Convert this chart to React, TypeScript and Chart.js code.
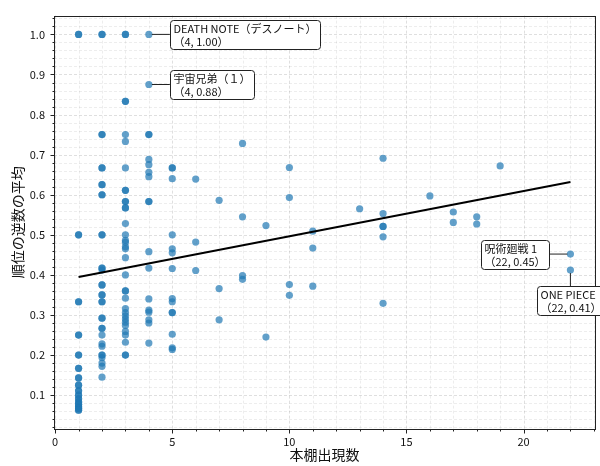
import React, { useEffect, useRef } from "react";
import { Chart, registerables } from "chart.js";

Chart.register(...registerables);

// ---- data ----
const shelfCounts = [1, 2, 3, 4, 5, 6, 7, 8, 9, 10, 11, 13, 14, 16, 17, 18, 19, 22];
const recipRanks: number[][] = [
  // x = 1
  [1.0, 1.0, 0.5, 0.5, 0.333, 0.333, 0.25, 0.25, 0.2, 0.2, 0.167, 0.167, 0.143, 0.143, 0.125, 0.125,
    0.111, 0.111, 0.1, 0.1, 0.091, 0.091, 0.083, 0.083, 0.077, 0.077, 0.071, 0.071, 0.067, 0.067, 0.0625, 0.0625],
  // x = 2
  [1.0, 1.0, 0.75, 0.75, 0.667, 0.667, 0.625, 0.625, 0.6, 0.6, 0.5, 0.5, 0.417, 0.417, 0.412, 0.375, 0.375,
    0.35, 0.35, 0.333, 0.333, 0.292, 0.292, 0.267, 0.267, 0.25, 0.228, 0.222, 0.2, 0.2, 0.194, 0.18, 0.172, 0.145],
  // x = 3
  [1.0, 1.0, 0.833, 0.833, 0.75, 0.733, 0.667, 0.611, 0.611, 0.583, 0.583, 0.567, 0.567, 0.528, 0.5,
    0.486, 0.481, 0.47, 0.465, 0.443, 0.4, 0.36, 0.36, 0.342, 0.316, 0.306, 0.298, 0.29, 0.282, 0.274,
    0.259, 0.25, 0.232, 0.2, 0.2],
  // x = 4
  [1.0, 0.875, 0.75, 0.75, 0.688, 0.675, 0.656, 0.645, 0.583, 0.583, 0.458, 0.417, 0.34, 0.312, 0.307,
    0.288, 0.28, 0.23],
  // x = 5
  [0.667, 0.667, 0.64, 0.5, 0.465, 0.455, 0.416, 0.341, 0.333, 0.306, 0.306, 0.252, 0.218, 0.214],
  // x = 6
  [0.639, 0.482, 0.411],
  // x = 7
  [0.586, 0.366, 0.288],
  // x = 8
  [0.728, 0.545, 0.398, 0.389],
  // x = 9
  [0.523, 0.245],
  // x = 10
  [0.668, 0.593, 0.376, 0.349],
  // x = 11
  [0.509, 0.467, 0.372],
  // x = 13
  [0.565],
  // x = 14
  [0.691, 0.553, 0.521, 0.521, 0.495, 0.329],
  // x = 16
  [0.597],
  // x = 17
  [0.557, 0.531],
  // x = 18
  [0.545, 0.527],
  // x = 19
  [0.672],
  // x = 22
  [0.452, 0.412],
];

const trendX = [1, 22];
const trendY = [0.395, 0.632];

const xTickValues = [0, 5, 10, 15, 20];
const yTickValues = [0.1, 0.2, 0.3, 0.4, 0.5, 0.6, 0.7, 0.8, 0.9, 1.0];

const annTitles = ["DEATH NOTE（デスノート）", "宇宙兄弟（１）", "呪術廻戦 1", "ONE PIECE"];
const annX = [4, 4, 22, 22];
const annY = [1.0, 0.875, 0.452, 0.412];
const annLabels = ["（4, 1.00）", "（4, 0.88）", "（22, 0.45）", "（22, 0.41）"];
const annPlacement = ["right", "right", "left", "below"];

const X_MIN = -0.05, X_MAX = 23.05;
const Y_MIN = 0.0156, Y_MAX = 1.0469;

const FONT = '"Noto Sans CJK JP", "Noto Sans", sans-serif';

const framePlugin = {
  id: "frameGrid",
  beforeDatasetsDraw(chart: any) {
    const { ctx, chartArea: a, scales } = chart;
    const xs = scales.x, ys = scales.y;
    ctx.save();
    ctx.lineWidth = 0.8;
    // x grid (minor every 1, major every 5)
    for (let v = 0; v <= 23; v += 1) {
      const p = Math.round(xs.getPixelForValue(v)) + 0.5;
      const major = v % 5 === 0;
      ctx.strokeStyle = major ? "rgba(0,0,0,0.16)" : "rgba(0,0,0,0.09)";
      ctx.setLineDash([3, 2]);
      ctx.beginPath();
      ctx.moveTo(p, a.top);
      ctx.lineTo(p, a.bottom);
      ctx.stroke();
    }
    for (let i = 1; i <= 52; i++) {
      const v = i * 0.02;
      if (v < Y_MIN || v > Y_MAX) continue;
      const p = Math.round(ys.getPixelForValue(v)) + 0.5;
      const major = i % 5 === 0;
      ctx.strokeStyle = major ? "rgba(0,0,0,0.16)" : "rgba(0,0,0,0.09)";
      ctx.setLineDash([3, 2]);
      ctx.beginPath();
      ctx.moveTo(a.left, p);
      ctx.lineTo(a.right, p);
      ctx.stroke();
    }
    ctx.restore();
  },
  afterDraw(chart: any) {
    const { ctx, chartArea: a, scales } = chart;
    const xs = scales.x, ys = scales.y;
    ctx.save();
    // spines
    ctx.strokeStyle = "#222";
    ctx.lineWidth = 1;
    ctx.setLineDash([]);
    ctx.strokeRect(Math.round(a.left) + 0.5, Math.round(a.top) + 0.5,
      Math.round(a.right - a.left), Math.round(a.bottom - a.top));
    // ticks
    for (let v = 0; v <= 23; v += 1) {
      const p = Math.round(xs.getPixelForValue(v)) + 0.5;
      const len = v % 5 === 0 ? 4 : 2;
      ctx.beginPath();
      ctx.moveTo(p, Math.round(a.bottom) + 0.5);
      ctx.lineTo(p, Math.round(a.bottom) + 0.5 + len);
      ctx.stroke();
    }
    for (let i = 1; i <= 52; i++) {
      const v = i * 0.02;
      if (v < Y_MIN || v > Y_MAX) continue;
      const p = Math.round(ys.getPixelForValue(v)) + 0.5;
      const len = i % 5 === 0 ? 4 : 2;
      ctx.beginPath();
      ctx.moveTo(Math.round(a.left) + 0.5, p);
      ctx.lineTo(Math.round(a.left) + 0.5 - len, p);
      ctx.stroke();
    }
    // annotations
    ctx.font = `11px ${FONT}`;
    ctx.textBaseline = "middle";
    ctx.textAlign = "left";
    for (let i = 0; i < annTitles.length; i++) {
      const px = xs.getPixelForValue(annX[i]);
      const py = ys.getPixelForValue(annY[i]);
      const l1 = annTitles[i], l2 = annLabels[i];
      const w = Math.max(ctx.measureText(l1).width, ctx.measureText(l2).width) + 7;
      const lh = 13;
      const h = lh * 2 + 3;
      let bx = 0, by = 0, cx0 = 0, cy0 = 0, cx1 = 0, cy1 = 0;
      if (annPlacement[i] === "right") {
        bx = px + 21; by = py - h / 2;
        cx0 = px + 3; cy0 = py; cx1 = bx; cy1 = py;
      } else if (annPlacement[i] === "left") {
        bx = px - 21 - w; by = py - h / 2;
        cx0 = px - 3; cy0 = py; cx1 = bx + w; cy1 = py;
      } else {
        bx = px - w / 2 + 1; by = py + 16;
        cx0 = px; cy0 = py + 3; cx1 = px; cy1 = by;
      }
      ctx.strokeStyle = "#222";
      ctx.lineWidth = 1;
      ctx.beginPath();
      ctx.moveTo(cx0, cy0);
      ctx.lineTo(cx1, cy1);
      ctx.stroke();
      ctx.beginPath();
      (ctx as any).roundRect(Math.round(bx) + 0.5, Math.round(by) + 0.5, Math.round(w), Math.round(h), 3);
      ctx.fillStyle = "#fff";
      ctx.fill();
      ctx.stroke();
      ctx.fillStyle = "#111";
      ctx.fillText(l1, Math.round(bx) + 3.5, Math.round(by) + 2 + lh / 2);
      ctx.fillText(l2, Math.round(bx) + 3.5, Math.round(by) + 2 + lh * 1.5);
    }
    ctx.restore();
  },
};

export default function App() {
  const ref = useRef<HTMLCanvasElement | null>(null);
  useEffect(() => {
    if (!ref.current) return;
    const points: { x: number; y: number }[] = [];
    shelfCounts.forEach((x, i) => {
      recipRanks[i].forEach((y) => points.push({ x, y }));
    });
    const trend = trendX.map((x, i) => ({ x, y: trendY[i] }));
    const chart = new Chart(ref.current, {
      type: "scatter",
      data: {
        datasets: [
          {
            type: "line",
            data: trend,
            borderColor: "#000",
            borderWidth: 2,
            pointRadius: 0,
            showLine: true,
            fill: false,
          } as any,
          {
            data: points,
            backgroundColor: "rgba(31,119,180,0.7)",
            borderWidth: 0,
            pointRadius: 3.6,
            pointHoverRadius: 3.6,
          },
        ],
      },
      options: {
        responsive: false,
        animation: false,
        events: [],
        layout: { padding: { top: 8, right: 5, left: 0, bottom: 0 } },
        plugins: { legend: { display: false }, tooltip: { enabled: false } },
        scales: {
          x: {
            type: "linear",
            min: X_MIN,
            max: X_MAX,
            grid: { display: false, drawTicks: false },
            border: { display: false },
            afterBuildTicks: (s: any) => { s.ticks = xTickValues.map((v) => ({ value: v })); },
            afterFit: (s: any) => { s.height = 37; },
            ticks: {
              padding: 6,
              color: "#111",
              font: { family: FONT, size: 11 },
              maxRotation: 0,
              callback: (v: any) => String(v),
            },
            title: {
              display: true,
              text: "本棚出現数",
              color: "#111",
              font: { family: FONT, size: 14 },
              padding: { top: 0, bottom: 3 },
            },
          },
          y: {
            type: "linear",
            min: Y_MIN,
            max: Y_MAX,
            grid: { display: false, drawTicks: false },
            border: { display: false },
            afterBuildTicks: (s: any) => { s.ticks = yTickValues.map((v) => ({ value: v })); },
            afterFit: (s: any) => { s.width = 54; },
            ticks: {
              padding: 9,
              color: "#111",
              font: { family: FONT, size: 11 },
              callback: (v: any) => Number(v).toFixed(1),
            },
            title: {
              display: true,
              text: "順位の逆数の平均",
              color: "#111",
              font: { family: FONT, size: 14 },
              padding: { top: 9, bottom: 0 },
            },
          },
        },
      },
      plugins: [framePlugin],
    });
    return () => chart.destroy();
  }, []);
  return (
    <div style={{ position: "absolute", left: 0, top: 0, width: 600, height: 466, background: "#fff" }}>
      <canvas ref={ref} width={600} height={466} style={{ width: 600, height: 466 }} />
    </div>
  );
}
